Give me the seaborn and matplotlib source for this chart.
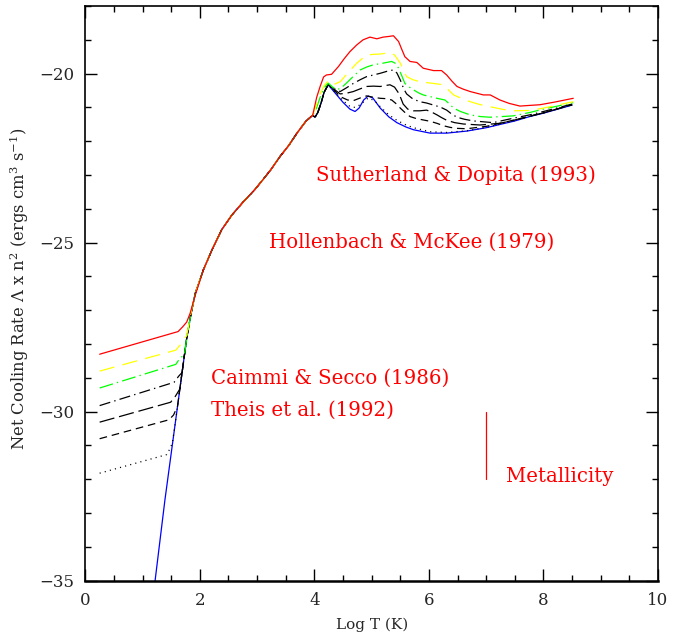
import matplotlib
matplotlib.use("Agg")
import matplotlib.pyplot as plt
from matplotlib.ticker import MultipleLocator
import pandas as pd
import seaborn as sns

# ---------------------------------------------------------------------------
# Net cooling rate Lambda x n^2 versus log T for increasing metallicity.
# Curves: primordial (no metals) and seven metallicities, lowest to highest.
# ---------------------------------------------------------------------------
series = ["primordial", "Z1", "Z2", "Z3", "Z4", "Z5", "Z6", "Z7"]

# Part common to all curves (2 < log T < 4)
shared_logT = [2.06, 2.21, 2.38, 2.56, 2.76, 2.95, 3.10, 3.24, 3.40, 3.55, 3.70, 3.85, 3.97]
shared_rate = [-25.81, -25.22, -24.62, -24.18, -23.79, -23.45, -23.14, -22.84, -22.45,
               -22.13, -21.75, -21.41, -21.23]

# Low-temperature branches (log T < 2.06)
low_logT = {
    "primordial": [1.20, 1.39, 1.58, 1.77, 1.84, 1.92],
    "Z1": [0.25, 1.42, 1.47, 1.52, 1.58, 1.77, 1.84, 1.92],
    "Z2": [0.25, 1.46, 1.54, 1.61, 1.77, 1.84, 1.92],
    "Z3": [0.25, 1.49, 1.57, 1.65, 1.77, 1.84, 1.92],
    "Z4": [0.25, 1.55, 1.63, 1.69, 1.77, 1.84, 1.92],
    "Z5": [0.25, 1.58, 1.66, 1.73, 1.77, 1.84, 1.92],
    "Z6": [0.25, 1.58, 1.67, 1.77, 1.84, 1.92],
    "Z7": [0.25, 1.62, 1.70, 1.77, 1.83, 1.92],
}
low_rate = {
    "primordial": [-35.25, -32.61, -30.22, -27.83, -27.15, -26.50],
    "Z1": [-31.82, -31.27, -31.12, -30.93, -30.22, -27.83, -27.15, -26.50],
    "Z2": [-30.80, -30.24, -30.10, -29.84, -27.83, -27.15, -26.50],
    "Z3": [-30.31, -29.72, -29.55, -29.33, -27.83, -27.15, -26.50],
    "Z4": [-29.82, -29.13, -28.95, -28.84, -27.83, -27.15, -26.50],
    "Z5": [-29.30, -28.60, -28.40, -28.33, -27.83, -27.15, -26.50],
    "Z6": [-28.80, -28.18, -28.00, -27.75, -27.12, -26.50],
    "Z7": [-28.30, -27.63, -27.49, -27.35, -27.09, -26.55],
}

# High-temperature branches (log T > 3.97)
high_logT = {
    "primordial": [4.01, 4.06, 4.12, 4.17, 4.24, 4.35, 4.50, 4.62, 4.71, 4.78, 4.86, 4.94,
                   5.02, 5.15, 5.30, 5.44, 5.60, 5.73, 6.02, 6.31, 6.66, 7.00, 7.50, 7.76,
                   8.00, 8.50],
    "Z1": [4.01, 4.06, 4.12, 4.17, 4.24, 4.35, 4.50, 4.62, 4.71, 4.80, 4.94, 5.05, 5.15,
           5.30, 5.44, 5.60, 5.73, 6.02, 6.31, 6.66, 7.00, 7.50, 7.76, 8.00, 8.50],
    "Z2": [4.01, 4.06, 4.12, 4.17, 4.24, 4.35, 4.45, 4.58, 4.68, 4.80, 4.91, 5.03, 5.15,
           5.25, 5.35, 5.42, 5.50, 5.60, 5.67, 5.78, 5.90, 6.02, 6.14, 6.25, 6.37, 6.50,
           6.66, 7.00, 7.47, 7.76, 8.00, 8.50],
    "Z3": [4.01, 4.06, 4.12, 4.17, 4.24, 4.35, 4.45, 4.56, 4.68, 4.80, 4.91, 5.03, 5.15,
           5.25, 5.32, 5.40, 5.48, 5.55, 5.63, 5.73, 5.84, 5.96, 6.05, 6.14, 6.22, 6.31,
           6.45, 6.60, 6.89, 7.24, 7.50, 7.76, 8.00, 8.50],
    "Z4": [4.01, 4.06, 4.12, 4.17, 4.24, 4.35, 4.45, 4.56, 4.68, 4.80, 4.91, 5.03, 5.15,
           5.27, 5.38, 5.44, 5.50, 5.56, 5.61, 5.72, 5.84, 5.96, 6.08, 6.20, 6.31, 6.40,
           6.49, 6.62, 6.78, 7.12, 7.47, 7.76, 8.00, 8.50],
    "Z5": [4.03, 4.10, 4.17, 4.24, 4.32, 4.39, 4.47, 4.56, 4.68, 4.80, 4.92, 5.03, 5.20,
           5.35, 5.42, 5.47, 5.53, 5.58, 5.66, 5.73, 5.82, 5.90, 6.02, 6.14, 6.28, 6.36,
           6.43, 6.55, 6.72, 6.90, 7.07, 7.47, 7.76, 8.00, 8.52],
    "Z6": [4.03, 4.10, 4.17, 4.24, 4.33, 4.45, 4.60, 4.74, 4.91, 5.03, 5.15, 5.32, 5.40,
           5.50, 5.56, 5.61, 5.72, 5.84, 6.08, 6.25, 6.34, 6.43, 6.58, 6.72, 6.90, 7.07,
           7.30, 7.47, 7.76, 8.00, 8.52],
    "Z7": [4.04, 4.10, 4.16, 4.21, 4.30, 4.42, 4.52, 4.62, 4.74, 4.85, 4.97, 5.09, 5.20,
           5.30, 5.38, 5.47, 5.53, 5.58, 5.67, 5.79, 5.90, 6.08, 6.22, 6.31, 6.40, 6.49,
           6.60, 6.72, 6.95, 7.07, 7.24, 7.40, 7.59, 7.76, 7.94, 8.20, 8.52],
}
high_rate = {
    "primordial": [-21.29, -21.15, -20.85, -20.55, -20.33, -20.55, -20.85, -21.05, -21.12,
                   -21.02, -20.78, -20.66, -20.72, -21.02, -21.28, -21.45, -21.58, -21.66,
                   -21.76, -21.76, -21.70, -21.60, -21.40, -21.27, -21.17, -20.93],
    "Z1": [-21.29, -21.15, -20.85, -20.55, -20.33, -20.53, -20.80, -20.97, -21.00, -20.92,
           -20.72, -20.80, -20.98, -21.22, -21.38, -21.52, -21.60, -21.72, -21.74, -21.69,
           -21.59, -21.39, -21.26, -21.16, -20.92],
    "Z2": [-21.29, -21.15, -20.85, -20.55, -20.33, -20.50, -20.68, -20.78, -20.80, -20.72,
           -20.66, -20.70, -20.73, -20.74, -20.78, -20.88, -21.02, -21.18, -21.27, -21.33,
           -21.37, -21.41, -21.47, -21.54, -21.59, -21.62, -21.63, -21.56, -21.38, -21.26,
           -21.16, -20.92],
    "Z3": [-21.29, -21.15, -20.85, -20.55, -20.33, -20.47, -20.60, -20.58, -20.53, -20.45,
           -20.38, -20.37, -20.38, -20.35, -20.33, -20.40, -20.60, -20.90, -21.05, -21.10,
           -21.10, -21.08, -21.14, -21.22, -21.30, -21.38, -21.45, -21.49, -21.52, -21.47,
           -21.37, -21.26, -21.16, -20.92],
    "Z4": [-21.29, -21.15, -20.85, -20.55, -20.33, -20.45, -20.53, -20.42, -20.29, -20.18,
           -20.09, -20.04, -19.99, -19.93, -19.89, -19.98, -20.19, -20.45, -20.60, -20.75,
           -20.83, -20.87, -20.93, -20.99, -21.08, -21.20, -21.29, -21.35, -21.40, -21.45,
           -21.32, -21.22, -21.12, -20.90],
    "Z5": [-21.05, -20.70, -20.42, -20.28, -20.40, -20.48, -20.42, -20.28, -20.08, -19.89,
           -19.80, -19.74, -19.69, -19.64, -19.70, -19.84, -20.08, -20.29, -20.40, -20.48,
           -20.57, -20.63, -20.68, -20.73, -20.78, -20.90, -21.02, -21.12, -21.22, -21.27,
           -21.29, -21.25, -21.15, -21.05, -20.86],
    "Z6": [-20.95, -20.60, -20.35, -20.22, -20.33, -20.24, -19.95, -19.69, -19.45, -19.43,
           -19.42, -19.38, -19.45, -19.69, -19.92, -20.09, -20.18, -20.24, -20.29, -20.33,
           -20.48, -20.63, -20.74, -20.83, -20.92, -20.98, -21.06, -21.10, -21.09, -21.02,
           -20.83],
    "Z7": [-20.70, -20.38, -20.10, -20.04, -20.02, -19.79, -19.56, -19.35, -19.15, -19.00,
           -18.92, -18.97, -18.92, -18.90, -18.88, -19.05, -19.30, -19.50, -19.64, -19.67,
           -19.84, -19.91, -19.91, -20.04, -20.22, -20.38, -20.46, -20.53, -20.63, -20.63,
           -20.78, -20.88, -20.96, -20.94, -20.92, -20.84, -20.73],
}

colors = ["#0000ff", "black", "black", "black", "black", "#00ff00", "#ffff00", "#ff0000"]
dash_patterns = [
    "",               # primordial: solid blue
    (0.8, 3.0),       # dotted
    (5.5, 3.5),       # dashed
    (11.0, 3.5),      # long dash
    (8.0, 3.0, 1.0, 3.0),   # dash-dot
    (10.0, 3.0, 1.0, 3.0),  # dash-dot (green)
    (11.0, 6.0),      # long dash (yellow)
    "",               # solid red
]

annotations = [
    (4.02, -22.99, "Sutherland & Dopita (1993)"),
    (3.21, -25.00, "Hollenbach & McKee (1979)"),
    (2.19, -29.01, "Caimmi & Secco (1986)"),
    (2.19, -29.95, "Theis et al. (1992)"),
    (7.35, -31.92, "Metallicity"),
]
metallicity_bar_logT = 7.0
metallicity_bar_rate = (-30.0, -32.0)

# Assemble a long-form table: low branch + shared part + high branch
rows = []
for name in series:
    xs = low_logT[name] + shared_logT + high_logT[name]
    ys = low_rate[name] + shared_rate + high_rate[name]
    for i, (x, y) in enumerate(zip(xs, ys)):
        rows.append({"series": name, "order": i, "logT": x, "rate": y})
df = pd.DataFrame(rows)

sns.set_style("ticks")
plt.rcParams["font.family"] = ["DejaVu Serif"]
plt.rcParams["mathtext.fontset"] = "dejavuserif"
plt.rcParams["lines.scale_dashes"] = False

fig = plt.figure(figsize=(6.87, 6.33), dpi=100)
ax = fig.add_axes([0.1242, 0.0826, 0.8336, 0.9079])

sns.lineplot(
    data=df, x="logT", y="rate", hue="series", style="series",
    hue_order=series, style_order=series,
    palette=dict(zip(series, colors)), dashes=dict(zip(series, dash_patterns)),
    sort=False, estimator=None, units=None, legend=False, linewidth=0.9, ax=ax,
)

for x, y, s in annotations:
    ax.text(x, y, s, color="#ff0000", fontsize=14.2, ha="left", va="center")
ax.plot([metallicity_bar_logT, metallicity_bar_logT], list(metallicity_bar_rate),
        color="#ff0000", linewidth=0.9)

ax.set_xlim(0, 10)
ax.set_ylim(-35, -18)
ax.xaxis.set_major_locator(MultipleLocator(2))
ax.xaxis.set_minor_locator(MultipleLocator(0.5))
ax.yaxis.set_major_locator(MultipleLocator(5))
ax.yaxis.set_minor_locator(MultipleLocator(1))
ax.tick_params(which="both", direction="in", top=True, right=True, color="black")
ax.tick_params(which="major", length=8.5, width=1.0, labelsize=12, pad=8)
ax.tick_params(which="minor", length=4.3, width=1.0)
for side in ["left", "right", "top"]:
    ax.spines[side].set_linewidth(1.2)
    ax.spines[side].set_color("black")
ax.spines["bottom"].set_linewidth(1.8)
ax.spines["bottom"].set_color("black")

ax.set_xlabel("Log T (K)", fontsize=11, labelpad=6)
ax.set_ylabel(r"Net Cooling Rate $\Lambda$ x n$^2$ (ergs cm$^3$ s$^{-1}$)", fontsize=11.8)
ax.yaxis.set_label_coords(-0.095, 0.507)

fig.savefig("out.png", dpi=100)
